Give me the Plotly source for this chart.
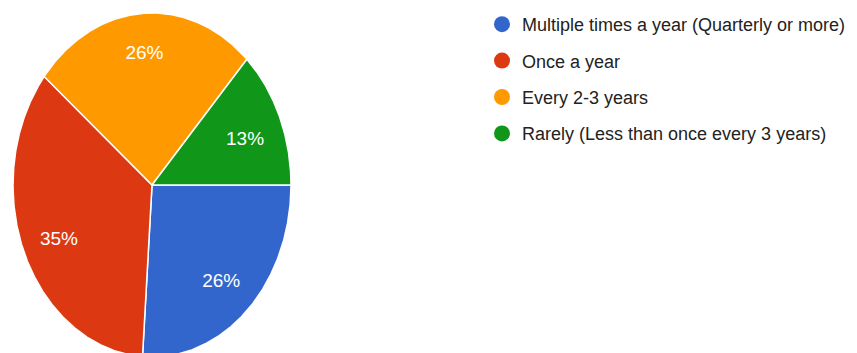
import numpy as np
import plotly.graph_objects as go

categories = [
    "Multiple times a year (Quarterly or more)",
    "Once a year",
    "Every 2-3 years",
    "Rarely (Less than once every 3 years)",
]
counts = [6, 8, 6, 3]
colors = ["#3366CC", "#DC3912", "#FF9900", "#109618"]
start_deg = 90  # clockwise from 12 o'clock
label_fracs = [0.73, 0.73, 0.79, 0.73]  # radial placement of the % labels

# the page body adds an 8px offset, so the figure fills the rest of the window
W, H = 849, 345
cx, cy = 144, 177  # pixel centre within the figure (from left, from top)
rx, ry = 139, 172
label_dy = -5 / ry  # labels sit slightly below the radial point

total = sum(counts)
fig = go.Figure()

lx, ly, lt = [], [], []
a0 = start_deg
for name, v, c, f in zip(categories, counts, colors, label_fracs):
    span = 360.0 * v / total
    th = np.radians(np.linspace(a0, a0 + span, max(int(span * 3), 2)))
    x = np.concatenate([[0], np.sin(th), [0]])
    y = np.concatenate([[0], np.cos(th), [0]])
    fig.add_trace(go.Scatter(
        x=x, y=y, fill="toself", fillcolor=c, mode="lines",
        line=dict(color="white", width=1.5), showlegend=False, hoverinfo="skip",
    ))
    mid = np.radians(a0 + span / 2)
    lx.append(f * np.sin(mid))
    ly.append(f * np.cos(mid) + label_dy)
    lt.append(f"{round(100 * v / total)}%")
    a0 += span

fig.add_trace(go.Scatter(
    x=lx, y=ly, text=lt, mode="text", showlegend=False, hoverinfo="skip",
    textfont=dict(family="Liberation Sans, Arial, sans-serif", size=19, color="white"),
))

for name, c in zip(categories, colors):
    fig.add_trace(go.Scatter(
        x=[None], y=[None], mode="markers", name=name, legendgroup=name,
        marker=dict(size=18, color=c, symbol="circle"),
    ))

fig.update_layout(
    width=W, height=H,
    margin=dict(l=0, r=0, t=0, b=0, autoexpand=False),
    paper_bgcolor="white", plot_bgcolor="white",
    xaxis=dict(visible=False, range=[-cx / rx, (W - cx) / rx], fixedrange=True),
    yaxis=dict(visible=False, range=[-(H - cy) / ry, cy / ry], fixedrange=True),
    legend=dict(
        x=474 / W, xanchor="left", y=1.0 + 2 / H, yanchor="top",
        font=dict(family="Liberation Sans, Arial, sans-serif", size=18, color="#222222"),
        tracegroupgap=10, bgcolor="rgba(0,0,0,0)",
    ),
    showlegend=True,
)

fig.write_html("out.html")
